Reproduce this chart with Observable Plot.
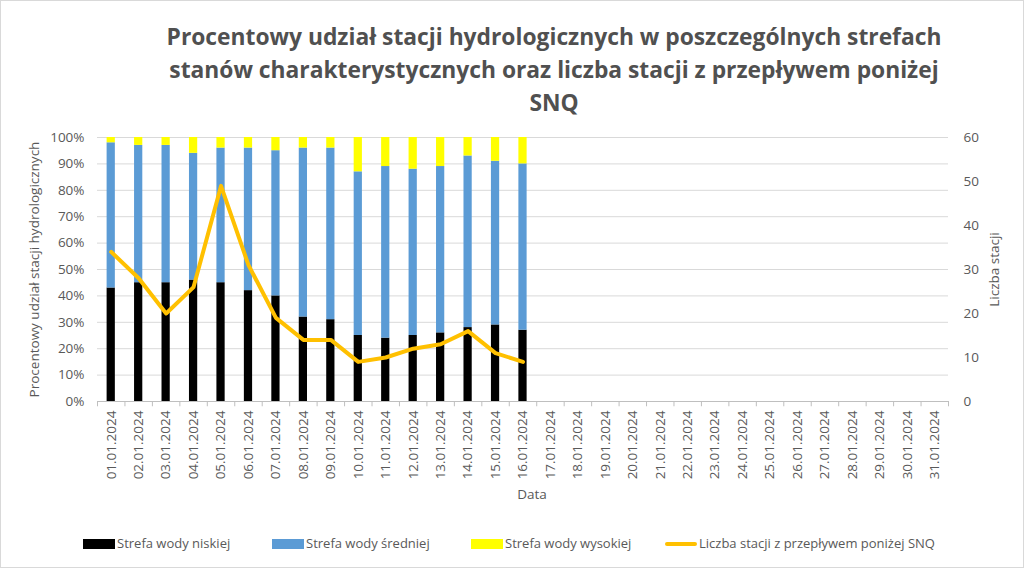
<!DOCTYPE html>
<html>
<head>
<meta charset="utf-8">
<script src="https://cdn.jsdelivr.net/npm/d3@7"></script>
<script src="https://cdn.jsdelivr.net/npm/@observablehq/plot@0.6"></script>
<style>
  html, body { margin: 0; padding: 0; background: #fff; }
  #frame { position: relative; width: 1024px; height: 568px; box-sizing: border-box; border: 1px solid #d9d9d9; overflow: hidden; font-family: "Open Sans", sans-serif; }
  #title { position: absolute; top: 19px; left: 83px; width: 940px; text-align: center; font-weight: bold; font-size: 22.8px; line-height: 33px; color: #505050; }
  #chart { position: absolute; top: 122px; left: 0; }
  .leg { position: absolute; top: 532px; font-size: 13px; color: #595959; white-space: nowrap; line-height: 20px; }
  .sw { position: absolute; }
</style>
</head>
<body>
<div id="frame">
  <div id="title">Procentowy udział stacji hydrologicznych w poszczególnych strefach<br>stanów charakterystycznych oraz liczba stacji z przepływem poniżej<br>SNQ</div>
  <div id="chart"></div>
  <div id="legend"></div>
</div>
<script>
const dates = ["01.01.2024","02.01.2024","03.01.2024","04.01.2024","05.01.2024","06.01.2024","07.01.2024","08.01.2024","09.01.2024","10.01.2024","11.01.2024","12.01.2024","13.01.2024","14.01.2024","15.01.2024","16.01.2024","17.01.2024","18.01.2024","19.01.2024","20.01.2024","21.01.2024","22.01.2024","23.01.2024","24.01.2024","25.01.2024","26.01.2024","27.01.2024","28.01.2024","29.01.2024","30.01.2024","31.01.2024"];
const lowZone  = [43,45,45,46,45,42,40,32,31,25,24,25,26,28,29,27];
const midZone  = [55,52,52,48,51,54,55,64,65,62,65,63,63,65,62,63];
const highZone = [2,3,3,6,4,4,5,4,4,13,11,12,11,7,9,10];
const belowSNQ = [34,28,20,26,49,31,19,14,14,9,10,12,13,16,11,9];
const zoneNames = ["Strefa wody niskiej","Strefa wody średniej","Strefa wody wysokiej"];
const zoneColors = ["#000000","#5B9BD5","#FFFF00"];
const lineName = "Liczba stacji z przepływem poniżej SNQ";
const lineColor = "#FFC000";
const leftTicks = [0,10,20,30,40,50,60,70,80,90,100];
const rightTicks = [0,10,20,30,40,50,60];
const rightMax = 60;

const table = [];
lowZone.forEach((v, i) => {
  table.push({date: dates[i], zone: zoneNames[0], value: lowZone[i]});
  table.push({date: dates[i], zone: zoneNames[1], value: midZone[i]});
  table.push({date: dates[i], zone: zoneNames[2], value: highZone[i]});
});
const lineData = belowSNQ.map((v, i) => ({date: dates[i], v}));

const W = 1022, mL = 96, mR = 75;
const bw = (W - mL - mR) / dates.length;

const chart = Plot.plot({
  width: W, height: 400,
  marginLeft: mL, marginRight: mR, marginTop: 14, marginBottom: 122,
  x: {type: "band", domain: dates, paddingInner: 0.7, paddingOuter: 0.35, round: false, label: null},
  y: {domain: [0, 100], label: null},
  color: {domain: zoneNames, range: zoneColors},
  style: {fontFamily: "Open Sans, sans-serif", fontSize: "13.5px", color: "#595959", background: "transparent", overflow: "visible"},
  marks: [
    Plot.gridY({ticks: leftTicks, stroke: "#d9d9d9", strokeOpacity: 1}),
    Plot.ruleX(dates, {x: d => d, y1: 0, y2: -2, dx: -bw / 2, stroke: "#bfbfbf"}),
    Plot.ruleX([dates[dates.length - 1]], {x: d => d, y1: 0, y2: -2, dx: bw / 2, stroke: "#bfbfbf"}),
    Plot.ruleY([0], {stroke: "#bfbfbf"}),
    Plot.barY(table, {x: "date", y: "value", fill: "zone"}),
    Plot.line(lineData, {x: "date", y: d => d.v * 100 / rightMax, stroke: lineColor, strokeWidth: 4, strokeLinejoin: "round"}),
    Plot.axisY({ticks: leftTicks, tickFormat: d => d + "%", tickSize: 0, tickPadding: 13, anchor: "left", label: null}),
    Plot.axisY({ticks: rightTicks.map(t => t * 100 / rightMax), tickFormat: d => String(Math.round(d * rightMax / 100)), tickSize: 0, tickPadding: 15, anchor: "right", label: null}),
    Plot.axisX({tickRotate: -90, tickSize: 0, tickPadding: 9, label: null}),
    Plot.text(["Procentowy udział stacji hydrologicznych"], {frameAnchor: "left", textAnchor: "middle", dx: -63, rotate: -90, fill: "#595959", fontSize: 13.5}),
    Plot.text(["Liczba stacji"], {frameAnchor: "right", textAnchor: "middle", dx: 46, rotate: -90, fill: "#595959", fontSize: 13.5}),
    Plot.text(["Data"], {frameAnchor: "bottom", dx: 9, dy: 97, fill: "#595959", fontSize: 13.5})
  ]
});
document.getElementById("chart").appendChild(chart);

const legend = document.getElementById("legend");
const items = [
  {name: zoneNames[0], color: zoneColors[0], x: 82, kind: "rect"},
  {name: zoneNames[1], color: zoneColors[1], x: 271, kind: "rect"},
  {name: zoneNames[2], color: zoneColors[2], x: 470, kind: "rect"},
  {name: lineName, color: lineColor, x: 664, kind: "line"}
];
items.forEach(it => {
  const sw = document.createElement("div");
  sw.className = "sw";
  sw.style.left = it.x + "px";
  sw.style.width = "32px";
  sw.style.background = it.color;
  if (it.kind === "rect") { sw.style.top = "538px"; sw.style.height = "10px"; }
  else { sw.style.top = "541px"; sw.style.height = "4px"; sw.style.borderRadius = "2px"; }
  legend.appendChild(sw);
  const t = document.createElement("div");
  t.className = "leg";
  t.style.left = (it.x + 34) + "px";
  t.textContent = it.name;
  legend.appendChild(t);
});
</script>
</body>
</html>
